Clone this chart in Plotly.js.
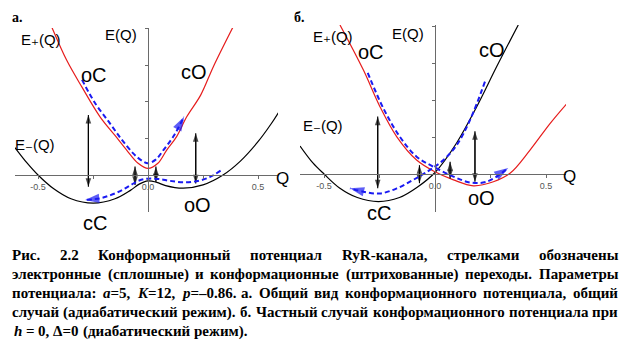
<!DOCTYPE html>
<html><head><meta charset="utf-8">
<script src="https://cdn.plot.ly/plotly-3.0.1.min.js"></script>
<style>html,body{margin:0;padding:0;background:#fff;}#chart{width:628px;height:352px;}</style>
</head><body><div id="chart"></div>
<script>
// ---------- Panel а (adiabatic) ----------
const aUpperQ = [-0.438,-0.37,-0.30,-0.218,-0.15,-0.097,-0.045,0,0.045,0.085,0.13,0.176,0.24,0.297,0.387];
const aUpperE = [4.05,3.14,2.40,1.59,1.08,0.68,0.32,0.18,0.32,0.68,1.05,1.59,2.19,2.96,4.05];
const aLowerQ = [-0.605,-0.55,-0.5,-0.43,-0.35,-0.249,-0.15,-0.08,-0.04,0,0.04,0.08,0.16,0.25,0.341,0.42,0.5,0.56,0.61];
const aLowerE = [0.75,0.33,0.0,-0.37,-0.65,-0.77,-0.65,-0.42,-0.25,-0.16,-0.20,-0.29,-0.36,-0.27,0.0,0.38,0.91,1.40,1.87];
const aBlue1Q = [-0.30,-0.24,-0.173,-0.12,-0.067,-0.03,0,0.035,0.07,0.115,0.164];
const aBlue1E = [2.60,1.96,1.41,0.97,0.59,0.40,0.32,0.42,0.68,1.05,1.59];
const aBlue2Q = [0.33,0.28,0.22,0.16,0.10,0.05,0.0,-0.04,-0.08,-0.12,-0.17,-0.22,-0.286];
const aBlue2E = [0.12,-0.06,-0.17,-0.20,-0.16,-0.11,-0.10,-0.15,-0.28,-0.42,-0.55,-0.64,-0.68];
const aArrowQ = [-0.271,-0.059,0.036,0.217];
const aArrowTop = [1.64,0.23,0.23,1.14];
const aArrowBottom = [-0.32,-0.27,-0.20,-0.23];

// ---------- Panel б (diabatic) ----------
const bLowerQ = [-0.608,-0.55,-0.5,-0.43,-0.35,-0.255,-0.16,-0.08,0,0.098,0.188,0.278,0.375];
const bLowerE = [0.76,0.30,0.0,-0.38,-0.64,-0.75,-0.64,-0.36,0.04,0.85,1.83,2.92,4.05];
const bUpperQ = [-0.428,-0.323,-0.248,-0.172,-0.083,0,0.083,0.173,0.263,0.338,0.428,0.518,0.605];
const bUpperE = [4.05,2.83,1.83,1.01,0.38,0.06,-0.16,-0.32,-0.21,0.02,0.65,1.37,1.99];
const bBlue1Q = [-0.303,-0.233,-0.158,-0.083,-0.008,0.083,0.158,0.233,0.33];
const bBlue1E = [2.75,1.79,1.01,0.47,0.20,-0.07,-0.23,-0.21,0.16];
const bBlue2Q = [0.225,0.158,0.098,0.038,-0.023,-0.098,-0.172,-0.248,-0.323,-0.383];
const bBlue2E = [2.51,1.47,0.79,0.38,0.11,-0.16,-0.39,-0.53,-0.48,-0.39];
const bArrowQ = [-0.258,-0.07,0.068,0.18];
const bArrowTop = [1.56,0.24,0.33,1.16];
const bArrowBottom = [-0.39,-0.25,-0.12,-0.21];

// ---------- Ticks ----------
const qTickVals = [-0.5,0,0.5];
const qTickText = ['-0.5','0.0','0.5'];
const qMinorVals = [-0.25,0.25];
const eTickVals = [1,2,3,4];

// ---------- Caption ----------
const captionLines = [
  'Рис. 2.2 Конформационный потенциал RyR-канала, стрелками обозначены',
  'электронные (сплошные) и конформационные (штрихованные) переходы. Параметры',
  'потенциала: <i>a</i>=5, <i>K</i>=12, <i>p</i>=–0.86. а. Общий вид конформационного потенциала, общий',
  'случай (адиабатический режим). б. Частный случай конформационного потенциала при',
  '<i>h</i> = 0, Δ=0 (диабатический режим).'
];

// ---------- Geometry ----------
const W = 628, H = 352;
const fx = p => p / W, fy = p => 1 - p / H;
const RED = '#e61c1c', BLUE = '#1a1af2', BLK = '#000000', AX = '#6a6a6a';
const SANS = '"Liberation Sans", Arial, "DejaVu Sans", sans-serif';
const SERIF = '"Liberation Serif", "Times New Roman", serif';

const panels = [
  {xPx:[15,278], yPx:[28,212], q0:148, qs:220, e0:175, es:36.6},
  {xPx:[300,566], yPx:[25,212], q0:435, qs:222, e0:174, es:36.8}
];
function axesFor(p){
  const xr = [(p.xPx[0]-p.q0)/p.qs, (p.xPx[1]-p.q0)/p.qs];
  const yr = [(p.e0-p.yPx[1])/p.es, (p.e0-p.yPx[0])/p.es];
  const xd = [fx(p.xPx[0]), fx(p.xPx[1])];
  const yd = [fy(p.yPx[1]), fy(p.yPx[0])];
  const xpos = yd[0] + (0-yr[0])/(yr[1]-yr[0])*(yd[1]-yd[0]);
  const ypos = xd[0] + (0-xr[0])/(xr[1]-xr[0])*(xd[1]-xd[0]);
  const xa = {domain:xd, range:xr, anchor:'free', position:xpos, showline:true, linecolor:AX, linewidth:1,
    ticks:'outside', ticklen:3, tickcolor:AX, tickwidth:1, tickvals:qTickVals, ticktext:qTickText,
    minor:{tickvals:qMinorVals, ticks:'outside', ticklen:3, tickcolor:AX, tickwidth:1, showgrid:false},
    tickfont:{family:SANS, size:9, color:'#555'}, showgrid:false, zeroline:false, automargin:false, fixedrange:true};
  const ya = {domain:yd, range:yr, anchor:'free', position:ypos, showline:true, linecolor:AX, linewidth:1,
    ticks:'outside', ticklen:3, tickcolor:AX, tickwidth:1, tickvals:eTickVals, showticklabels:false,
    showgrid:false, zeroline:false, automargin:false, fixedrange:true};
  return [xa, ya];
}
const [xa1, ya1] = axesFor(panels[0]);
const [xa2, ya2] = axesFor(panels[1]);

function curve(q, e, color, ax){
  return {x:q, y:e, xaxis:ax[0], yaxis:ax[1], mode:'lines', hoverinfo:'skip',
    line:{color:color, width:1.2, shape:'spline', smoothing:1}};
}
function blue(q, e, ax){
  const sizes = q.map((v,i)=> i===q.length-1 ? 15 : 0);
  return {x:q, y:e, xaxis:ax[0], yaxis:ax[1], mode:'lines+markers', hoverinfo:'skip',
    line:{color:BLUE, width:2, dash:'5px,3px', shape:'spline', smoothing:1},
    marker:{symbol:'arrow', size:sizes, color:BLUE, angleref:'previous', line:{width:0}}};
}
// double-headed vertical arrow: bottom -> top -> bottom, heads at both ends
function dbl(qs, tops, bots, ax){
  return qs.map((q,i)=>({x:[q,q,q], y:[bots[i],tops[i],bots[i]], xaxis:ax[0], yaxis:ax[1],
    mode:'lines+markers', hoverinfo:'skip', line:{color:BLK, width:1.1},
    marker:{symbol:'arrow', size:[0,9,9], color:BLK, angleref:'previous', line:{width:0}}}));
}
const A = ['x','y'], B = ['x2','y2'];
const data = [
  curve(aLowerQ, aLowerE, BLK, A), curve(aUpperQ, aUpperE, RED, A),
  ...dbl(aArrowQ, aArrowTop, aArrowBottom, A),
  blue(aBlue1Q, aBlue1E, A), blue(aBlue2Q, aBlue2E, A),
  curve(bLowerQ, bLowerE, BLK, B), curve(bUpperQ, bUpperE, RED, B),
  ...dbl(bArrowQ, bArrowTop, bArrowBottom, B),
  blue(bBlue1Q, bBlue1E, B), blue(bBlue2Q, bBlue2E, B)
];

const ann = [];
function label(txt, px, py, size, anchor, font, weight){
  ann.push({text:txt, x:fx(px), y:fy(py), xref:'paper', yref:'paper', showarrow:false,
    xanchor:anchor||'center', yanchor:'middle', borderpad:0, borderwidth:0,
    font:{family:font||SANS, size:size, color:'#000', weight:weight||'normal'}});
}
// panel а labels
label('а.', 12, 17, 14, 'left', SERIF, 'bold');
label('E₊(Q)', 21, 39, 15, 'left');
label('E(Q)', 105, 35, 15, 'left');
label('oC', 94, 75, 20);
label('cO', 194, 72, 20);
label('E₋(Q)', 15, 144, 15, 'left');
label('Q', 282, 178, 17);
label('oO', 197, 205, 20);
label('cC', 95, 223, 20);
// panel б labels
label('б.', 294, 17, 14, 'left', SERIF, 'bold');
label('E₊(Q)', 313, 36, 15, 'left');
label('E(Q)', 392, 34, 15, 'left');
label('oC', 371, 52, 20);
label('cO', 492, 50, 20);
label('E₋(Q)', 303, 125, 15, 'left');
label('Q', 569, 176, 17);
label('oO', 481, 198, 20);
label('cC', 379, 213, 20);

// caption, justified word by word
const CAP = 15, capL = 12, capR = 618, capY = [255,274,293,312,331];
const ctx = document.createElement('canvas').getContext('2d');
function measure(html){
  let w = 0;
  html.split(/(<i>.*?<\/i>)/).forEach(p=>{
    if(!p) return;
    const it = p.startsWith('<i>');
    ctx.font = (it?'italic ':'') + 'bold ' + CAP + 'px "Liberation Serif"';
    w += ctx.measureText(p.replace(/<\/?i>/g,'')).width;
  });
  return w;
}
captionLines.forEach((line, li)=>{
  const words = line.split(' ');
  const ws = words.map(measure);
  const total = ws.reduce((s,v)=>s+v,0);
  const last = li === captionLines.length-1;
  const gap = last ? measure(' ') : (capR-capL-total)/(words.length-1);
  let x = last ? capL + 2 : capL;
  words.forEach((w,i)=>{
    label(w, x, capY[li], CAP, 'left', SERIF, 'bold');
    x += ws[i] + gap;
  });
});

const layout = {width:W, height:H, margin:{l:0,r:0,t:0,b:0}, paper_bgcolor:'#fff', plot_bgcolor:'rgba(0,0,0,0)',
  showlegend:false, xaxis:xa1, yaxis:ya1, xaxis2:xa2, yaxis2:ya2, annotations:ann};
Plotly.newPlot('chart', data, layout, {displayModeBar:false, staticPlot:true});
</script></body></html>
